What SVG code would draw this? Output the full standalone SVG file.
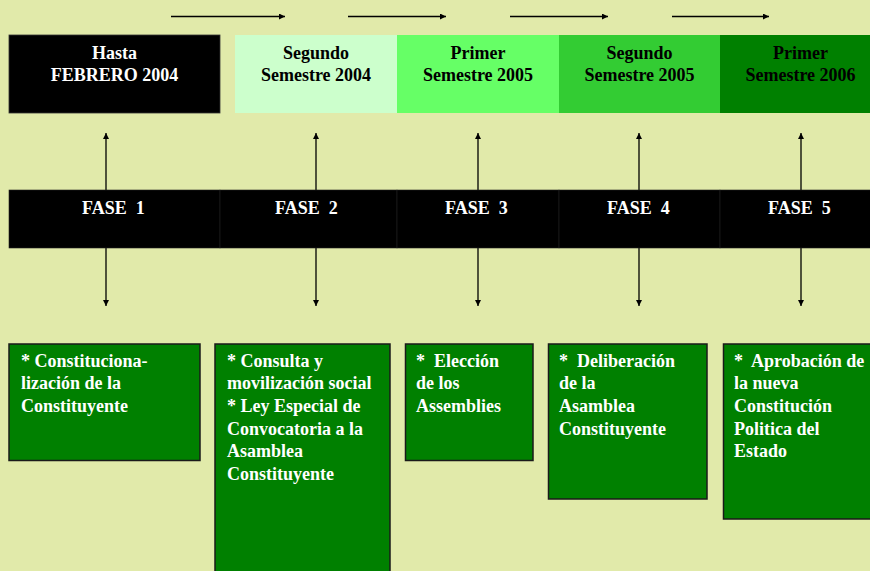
<svg xmlns="http://www.w3.org/2000/svg" width="870" height="571" viewBox="0 0 870 571" font-family="'Liberation Serif', 'Times New Roman', Times, serif">
<defs>
<marker id="ah" viewBox="0 0 10 10" refX="10" refY="5" markerWidth="6" markerHeight="6" markerUnits="userSpaceOnUse" orient="auto">
<path d="M0,0 L10,5 L0,10 z" fill="#000"/>
</marker>
<style>
text{font-family:'Liberation Serif','Times New Roman',Times,serif;font-weight:700;font-size:18px;}
.w{fill:#fff;}
.b{fill:#000;}
.c{text-anchor:middle;}
.ln{stroke:#000;stroke-width:1.3;fill:none;marker-end:url(#ah);}
.gb{fill:#008000;stroke:#1a1a1a;stroke-width:1.5;}
</style>
</defs>
<rect x="0" y="0" width="870" height="571" fill="#E1EAAA"/>

<g id="connectors">
<line class="ln" x1="171" y1="16.5" x2="285" y2="16.5"/>
<line class="ln" x1="348" y1="16.5" x2="446" y2="16.5"/>
<line class="ln" x1="510" y1="16.5" x2="608" y2="16.5"/>
<line class="ln" x1="672" y1="16.5" x2="769" y2="16.5"/>
<line class="ln" x1="106" y1="190" x2="106" y2="133"/>
<line class="ln" x1="316" y1="190" x2="316" y2="133"/>
<line class="ln" x1="478" y1="190" x2="478" y2="133"/>
<line class="ln" x1="639" y1="190" x2="639" y2="133"/>
<line class="ln" x1="801" y1="190" x2="801" y2="133"/>
<line class="ln" x1="106" y1="248" x2="106" y2="306"/>
<line class="ln" x1="316" y1="248" x2="316" y2="306"/>
<line class="ln" x1="478" y1="248" x2="478" y2="306"/>
<line class="ln" x1="639" y1="248" x2="639" y2="306"/>
<line class="ln" x1="801" y1="248" x2="801" y2="306"/>
</g>

<g id="period1">
<rect x="9" y="35" width="211" height="78" fill="#000" stroke="#333" stroke-width="0.8"/>
<text class="w c" x="114.5" y="59">Hasta</text>
<text class="w c" x="114.5" y="81">FEBRERO 2004</text>
</g>
<g id="period2">
<rect x="235" y="35" width="162" height="78" fill="#CCFFCC"/>
<text class="b c" x="316" y="59">Segundo</text>
<text class="b c" x="316" y="81">Semestre 2004</text>
</g>
<g id="period3">
<rect x="397" y="35" width="162" height="78" fill="#66FF66"/>
<text class="b c" x="478" y="59">Primer</text>
<text class="b c" x="478" y="81">Semestre 2005</text>
</g>
<g id="period4">
<rect x="559" y="35" width="161" height="78" fill="#33CC33"/>
<text class="b c" x="639.5" y="59">Segundo</text>
<text class="b c" x="639.5" y="81">Semestre 2005</text>
</g>
<g id="period5">
<rect x="720" y="35" width="160" height="78" fill="#008000"/>
<text class="b c" x="800.5" y="59">Primer</text>
<text class="b c" x="800.5" y="81">Semestre 2006</text>
</g>

<g id="fase1">
<rect x="9" y="190" width="211" height="58" fill="#000" stroke="#222" stroke-width="0.6"/>
<text class="w" x="82" y="214" xml:space="preserve">FASE  1</text>
</g>
<g id="fase2">
<rect x="220" y="190" width="177" height="58" fill="#000" stroke="#222" stroke-width="0.6"/>
<text class="w" x="275" y="214" xml:space="preserve">FASE  2</text>
</g>
<g id="fase3">
<rect x="397" y="190" width="162" height="58" fill="#000" stroke="#222" stroke-width="0.6"/>
<text class="w" x="445" y="214" xml:space="preserve">FASE  3</text>
</g>
<g id="fase4">
<rect x="559" y="190" width="161" height="58" fill="#000" stroke="#222" stroke-width="0.6"/>
<text class="w" x="607" y="214" xml:space="preserve">FASE  4</text>
</g>
<g id="fase5">
<rect x="720" y="190" width="160" height="58" fill="#000" stroke="#222" stroke-width="0.6"/>
<text class="w" x="768" y="214" xml:space="preserve">FASE  5</text>
</g>

<g id="task1">
<rect class="gb" x="9" y="344" width="191" height="116.5"/>
<text class="w" x="21" y="366.5">* Constituciona-</text>
<text class="w" x="21" y="389.2">lización de la</text>
<text class="w" x="21" y="411.9">Constituyente</text>
</g>
<g id="task2">
<rect class="gb" x="215" y="344" width="175" height="240"/>
<text class="w" x="227" y="366.5">* Consulta y</text>
<text class="w" x="227" y="389.2">movilización social</text>
<text class="w" x="227" y="411.9">* Ley Especial de</text>
<text class="w" x="227" y="434.6">Convocatoria a la</text>
<text class="w" x="227" y="457.3">Asamblea</text>
<text class="w" x="227" y="480">Constituyente</text>
</g>
<g id="task3">
<rect class="gb" x="405.5" y="344" width="127.5" height="116.5"/>
<text class="w" x="416" y="366.5" xml:space="preserve">*  Elección</text>
<text class="w" x="416" y="389.2">de los</text>
<text class="w" x="416" y="411.9">Assemblies</text>
</g>
<g id="task4">
<rect class="gb" x="548.5" y="344" width="158.5" height="155"/>
<text class="w" x="559" y="366.5" xml:space="preserve">*  Deliberación</text>
<text class="w" x="559" y="389.2">de la</text>
<text class="w" x="559" y="411.9">Asamblea</text>
<text class="w" x="559" y="434.6">Constituyente</text>
</g>
<g id="task5">
<rect class="gb" x="723.5" y="344" width="160" height="175"/>
<text class="w" x="734" y="366.5" xml:space="preserve">*  Aprobación de</text>
<text class="w" x="734" y="389.2">la nueva</text>
<text class="w" x="734" y="411.9">Constitución</text>
<text class="w" x="734" y="434.6">Politica del</text>
<text class="w" x="734" y="457.3">Estado</text>
</g>
</svg>
